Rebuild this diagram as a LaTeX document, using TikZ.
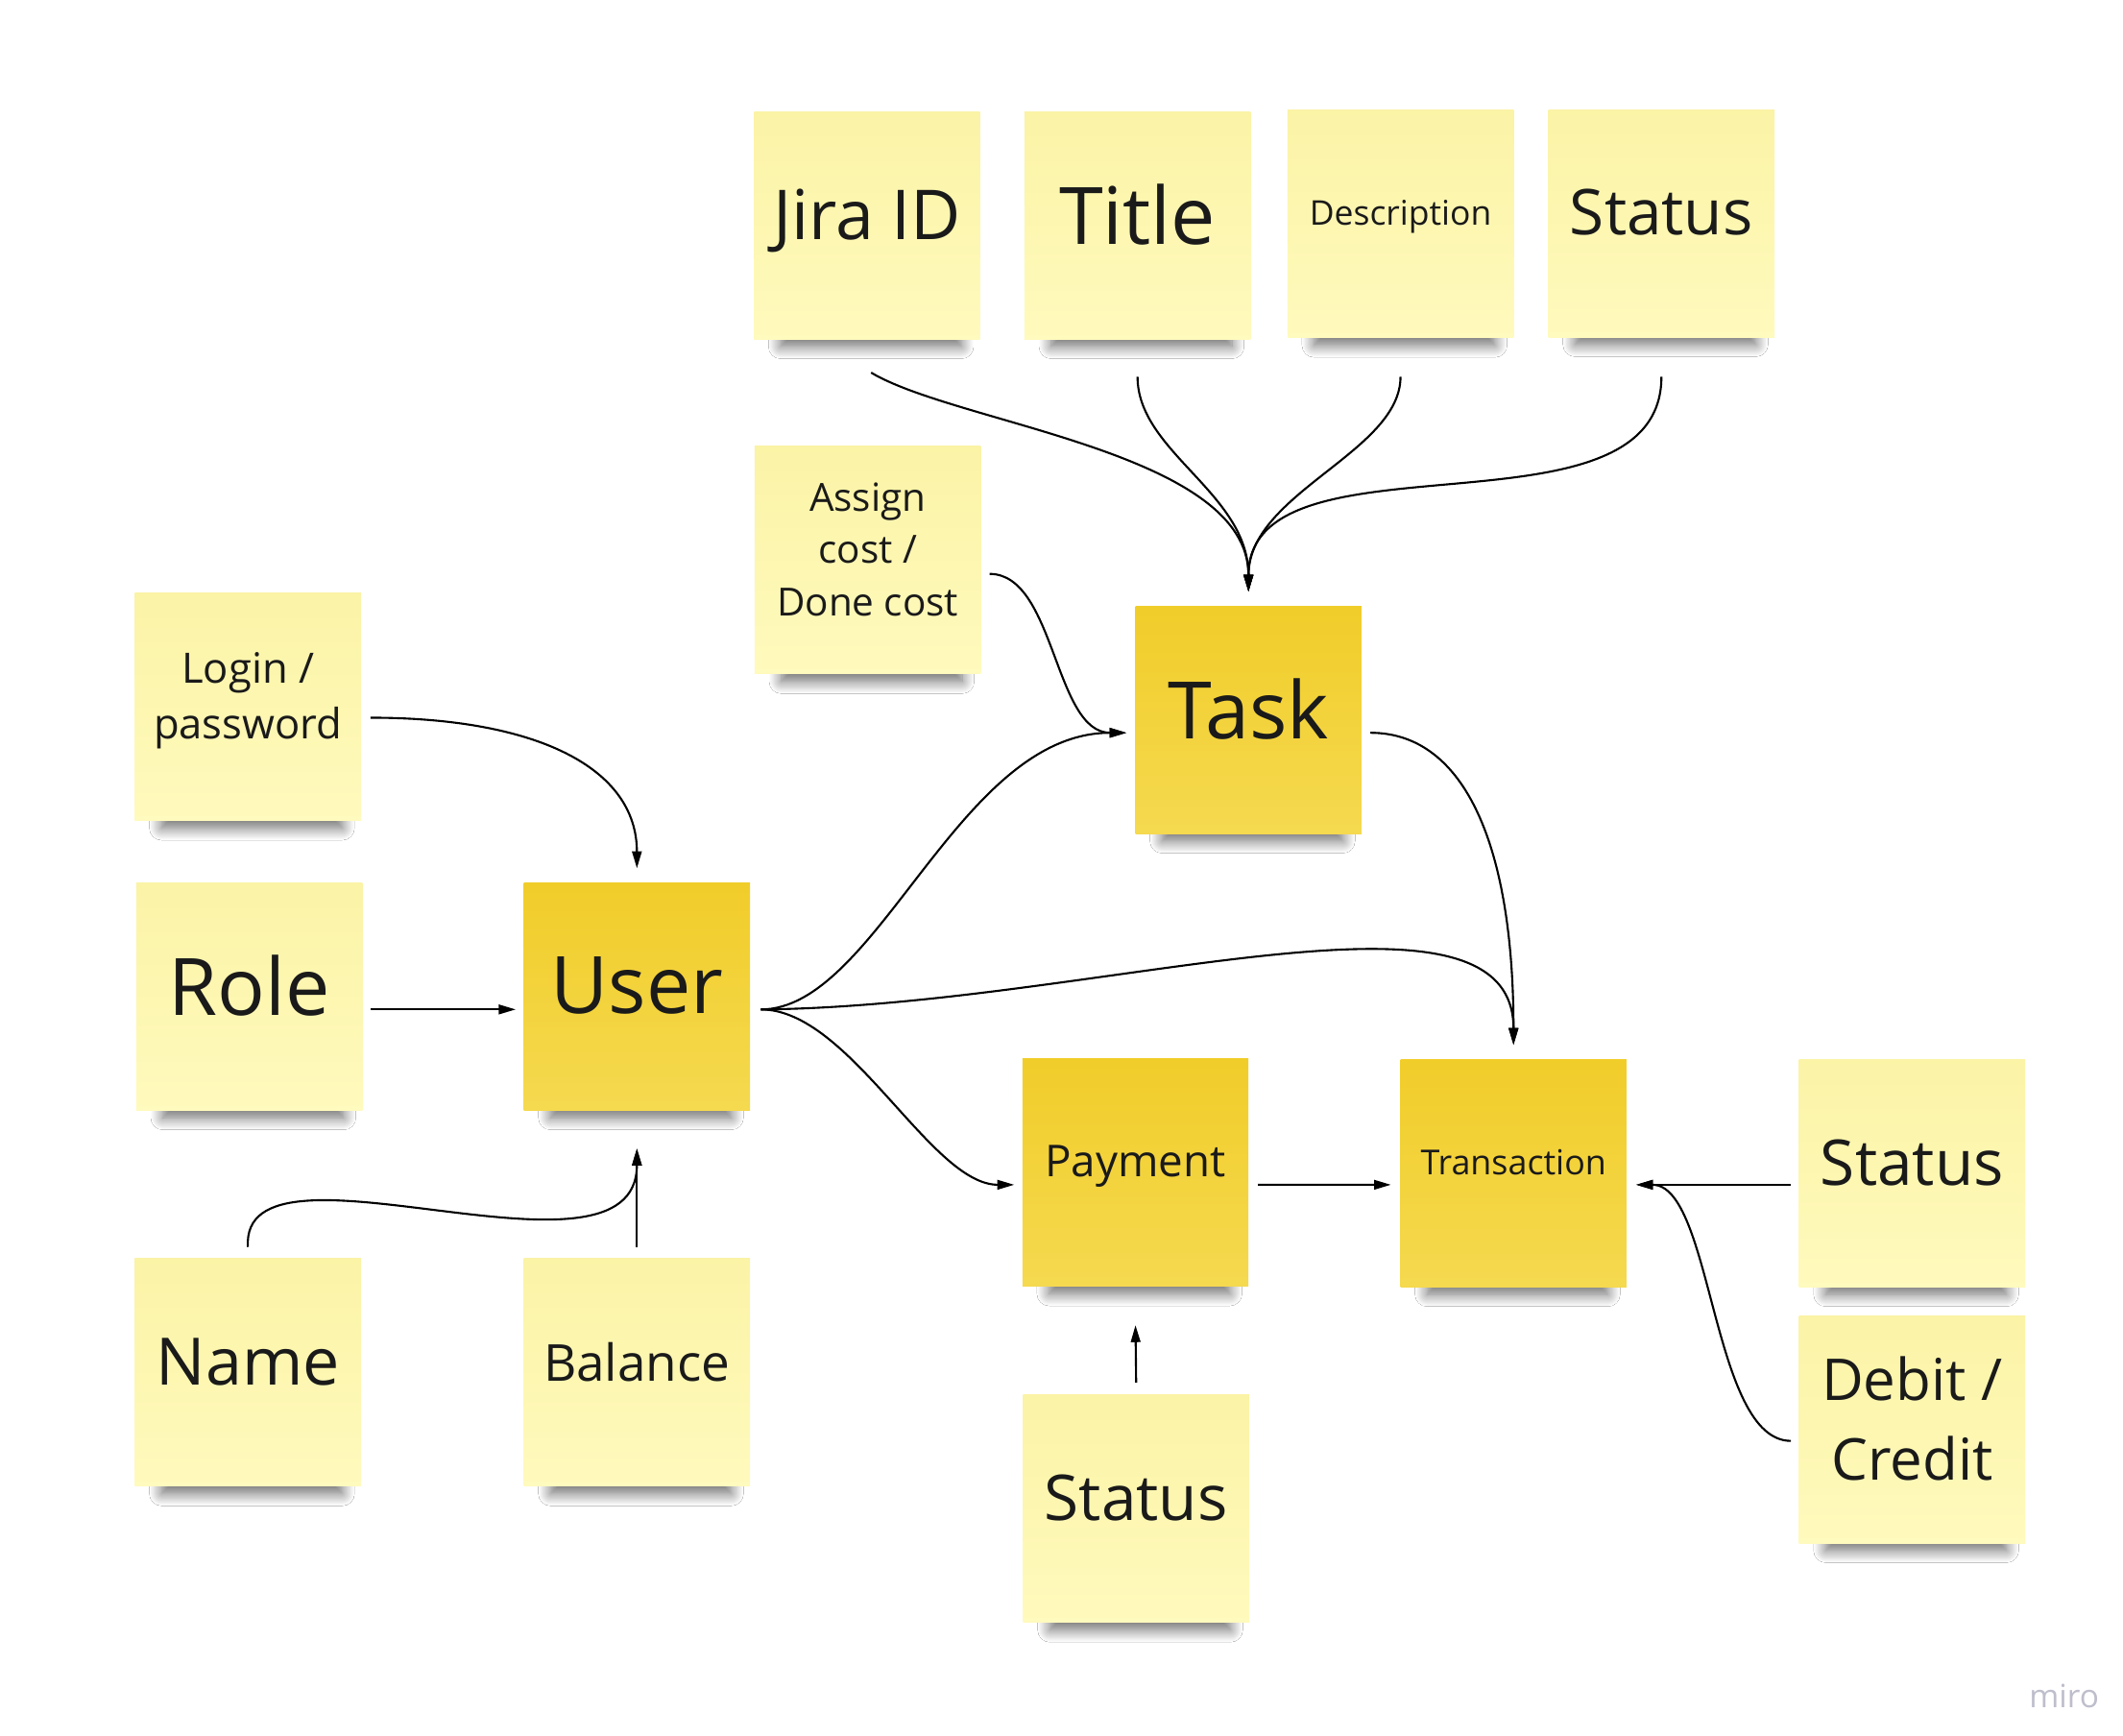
\documentclass[tikz,border=0pt]{standalone}
\usepackage{fontspec}
\setmainfont{Open Sans}
\usetikzlibrary{arrows.meta,calc,shadows.blur}
\definecolor{paleTop}{HTML}{FBF3A6}
\definecolor{paleBot}{HTML}{FFFABD}
\definecolor{goldTop}{HTML}{F1CD2A}
\definecolor{goldBot}{HTML}{F5D94F}
\definecolor{ink}{HTML}{1A1A1A}
\definecolor{miroGrey}{HTML}{BEBECC}
\newcommand{\sz}[2]{\fontsize{#1}{#2}\selectfont}
\tikzstyle{sticky} = [minimum width=2.354cm,minimum height=2.37cm,inner sep=0pt,align=center,text=ink,text depth=6.5pt,
                      top color=paleTop,bottom color=paleBot,
                      blur shadow={shadow xshift=1.5pt,shadow yshift=-11.2pt,shadow scale=.8,
                                   shadow blur radius=4.5pt,shadow blur steps=14,shadow opacity=58}]
\tikzstyle{entity} = [sticky,top color=goldTop,bottom color=goldBot]
\tikzstyle{link}   = [line width=.6pt,arrows={-Triangle[length=5pt,width=2.8pt]}]

\begin{document}
\begin{tikzpicture}[x=1.4265cm,y=-1.4265cm]
                  \path[use as bounding box,fill=white] (0,0) rectangle (15.5,12.674);

                  \node (jira)[sticky,font=\sz{20.4}{24}]     at (6.33,1.645)  {Jira ID};
                  \node (title)[sticky,font=\sz{23.5}{28}]    at (8.305,1.645) {Title};
                  \node (desc)[sticky,font=\sz{10.1}{12}]     at (10.225,1.635){Description};
                  \node (tstat)[sticky,font=\sz{18.7}{22}]    at (12.13,1.63)  {Status};
                  \node (cost)[sticky,font=\sz{11.5}{15.6}]   at (6.335,4.09)  {Assign\\cost /\\Done cost};
                  \node (task)[entity,font=\sz{23.5}{28}]     at (9.115,5.255) {Task};
                  \node (login)[sticky,font=\sz{12.4}{16.3}]  at (1.81,5.16)   {Login /\\password};
                  \node (role)[sticky,font=\sz{23.5}{28}]     at (1.82,7.275)  {Role};
                  \node (user)[entity,font=\sz{23.5}{28}]     at (4.65,7.275)  {User};
                  \node (name)[sticky,font=\sz{19.4}{23}]     at (1.81,10.02)  {Name};
                  \node (balance)[sticky,font=\sz{15.1}{18}]  at (4.65,10.02)  {Balance};
                  \node (payment)[entity,font=\sz{13}{15}]    at (8.29,8.56)   {Payment};
                  \node (trans)[entity,font=\sz{10.2}{12}]    at (11.05,8.565) {Transaction};
                  \node (xstat)[sticky,font=\sz{18.7}{22}]    at (13.96,8.565) {Status};
                  \node (debit)[sticky,font=\sz{17.1}{23.6}]  at (13.96,10.435){Debit /\\Credit};
                  \node (pstat)[sticky,font=\sz{18.7}{22}]    at (8.295,11.015){Status};
                  \node (miro)[text=miroGrey,font=\sz{9.5}{9.5}] at (15.07,12.38) {miro};

                  % task attributes
                  \draw[link] ($(jira.south)+(.03,.24)$) .. controls +(.64,.38) and +(0,-1.02) .. ($(task.north)+(0,-.1)$);
                  \draw[link] ($(title.south)+(0,.27)$) .. controls +(0,.55) and +(0,-.72) .. ($(task.north)+(0,-.1)$);
                  \draw[link] ($(desc.south)+(0,.28)$) .. controls +(0,.55) and +(0,-.72) .. ($(task.north)+(0,-.1)$);
                  \draw[link] ($(tstat.south)+(0,.285)$) .. controls +(0,1.25) and +(0,-1.22) .. ($(task.north)+(0,-.1)$);
                  \draw[link] ($(cost.east)+(.06,.1)$) .. controls +(.48,0) and +(-.53,0) .. ($(task.west)+(-.06,.095)$);

                  % user attributes
                  \draw[link] ($(login.east)+(.065,.08)$) .. controls +(1.2,0) and +(0,-.74) .. ($(user.north)+(0,-.1)$);
                  \draw[link] ($(role.east)+(.055,.095)$) -- ($(user.west)+(-.055,.095)$);
                  \draw[link] ($(balance.north)+(0,-.08)$) -- ($(user.south)+(0,.275)$);
                  \draw[link] ($(name.north)+(0,-.08)$) .. controls +(-.06,-.91) and +(0,1.12) .. ($(user.south)+(0,.275)$);

                  % user links
                  \draw[link] ($(user.east)+(.075,.095)$) .. controls +(.85,0) and +(-1.23,0) .. ($(task.west)+(-.06,.095)$);
                  \draw[link] ($(user.east)+(.075,.095)$) .. controls +(2.45,-.02) and +(0,-1.33) .. ($(trans.north)+(0,-.1)$);
                  \draw[link] ($(user.east)+(.075,.095)$) .. controls +(.65,0) and +(-.61,0) .. ($(payment.west)+(-.055,.09)$);
                  \draw[link] ($(task.east)+(.06,.095)$) .. controls +(.7,0) and +(0,-1.43) .. ($(trans.north)+(0,-.1)$);

                  % payment and transaction
                  \draw[link] ($(payment.east)+(.065,.09)$) -- ($(trans.west)+(-.065,.085)$);
                  \draw[link] ($(pstat.north)+(0,-.085)$) -- ($(payment.south)+(0,.28)$);
                  \draw[link] ($(xstat.west)+(-.055,.085)$) -- ($(trans.east)+(.065,.085)$);
                  \draw[link] ($(debit.west)+(-.055,.085)$) .. controls +(-.58,0) and +(.56,0) .. ($(trans.east)+(.065,.085)$);
            \end{tikzpicture}
\end{document}
